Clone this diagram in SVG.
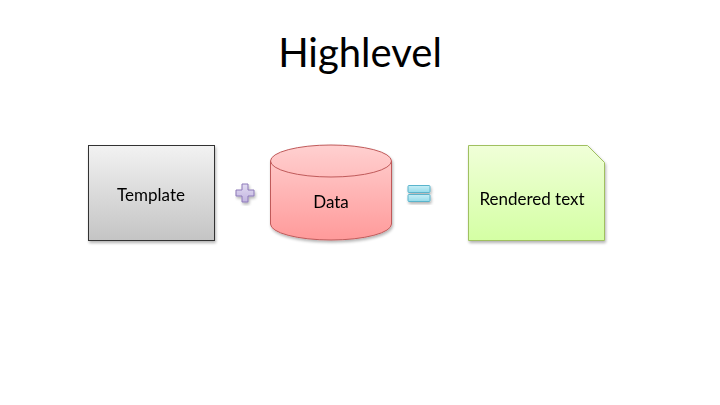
<svg xmlns="http://www.w3.org/2000/svg" width="720" height="405" viewBox="0 0 720 405">
<style>
text{font-family:Lato,"Open Sans","Liberation Sans",sans-serif;fill:#000;text-anchor:middle}
.lbl{font-size:17px}
</style>
<defs>
<linearGradient id="gGray" x1="0" y1="0" x2="0" y2="1"><stop offset="0" stop-color="#f2f2f2"/><stop offset="1" stop-color="#c4c4c4"/></linearGradient>
<linearGradient id="gRed" x1="0" y1="0" x2="0" y2="1"><stop offset="0" stop-color="#ffd0d0"/><stop offset="1" stop-color="#ff9a9a"/></linearGradient>
<linearGradient id="gGreen" x1="0" y1="0" x2="0" y2="1"><stop offset="0" stop-color="#f0ffd8"/><stop offset="1" stop-color="#d4ffa4"/></linearGradient>
<linearGradient id="gPurple" x1="0" y1="0" x2="0" y2="1"><stop offset="0" stop-color="#e2dcf2"/><stop offset="1" stop-color="#c2b4e0"/></linearGradient>
<linearGradient id="gBlue" x1="0" y1="0" x2="0" y2="1"><stop offset="0" stop-color="#c8eef6"/><stop offset="1" stop-color="#94dbea"/></linearGradient>
<filter id="sh" x="-10%" y="-10%" width="130%" height="130%"><feGaussianBlur in="SourceAlpha" stdDeviation="1.5"/><feOffset dx="1" dy="2"/><feComponentTransfer><feFuncA type="linear" slope="0.3"/></feComponentTransfer><feMerge><feMergeNode/><feMergeNode in="SourceGraphic"/></feMerge></filter>
</defs>
<rect width="720" height="405" fill="#fff"/>
<text x="360" y="67" style="font-size:40px">Highlevel</text>
<g id="template" filter="url(#sh)">
<rect x="88.5" y="145.5" width="126" height="95" fill="url(#gGray)" stroke="#333" stroke-width="1"/>
<text class="lbl" x="151" y="201">Template</text>
</g>
<g id="plus" filter="url(#sh)">
<path d="M242,184 h6 v6 h6 v6 h-6 v6 h-6 v-6 h-6 v-6 h6 z" fill="url(#gPurple)" stroke="#8c78b8" stroke-width="1"/>
</g>
<g id="data" filter="url(#sh)">
<path d="M270.5,161 A60.5,16 0 0 1 391.5,161 V224 A60.5,16 0 0 1 270.5,224 Z" fill="url(#gRed)" stroke="#c05a5a" stroke-width="1"/>
<path d="M270.5,161 A60.5,16 0 0 0 391.5,161" fill="none" stroke="#c05a5a" stroke-width="1"/>
<text class="lbl" x="331" y="208">Data</text>
</g>
<g id="equals" filter="url(#sh)">
<rect x="408" y="185.5" width="22" height="7" rx="1" fill="url(#gBlue)" stroke="#5ab4cc" stroke-width="1"/>
<rect x="408" y="194.5" width="22" height="7" rx="1" fill="url(#gBlue)" stroke="#5ab4cc" stroke-width="1"/>
</g>
<g id="rendered" filter="url(#sh)">
<path d="M468.5,145.5 H587.5 L604.5,162.5 V240.5 H468.5 Z" fill="url(#gGreen)" stroke="#a0c060" stroke-width="1"/>
<text class="lbl" x="532" y="205">Rendered text</text>
</g>
<g id="connectors"/>
</svg>
